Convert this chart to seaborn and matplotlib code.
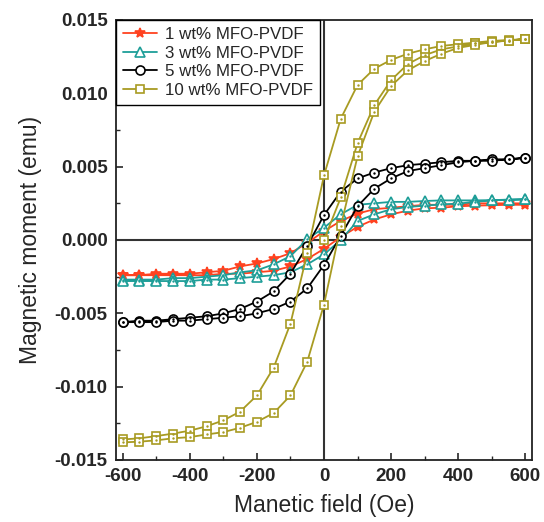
import numpy as np
import pandas as pd
import matplotlib
matplotlib.use("Agg")
import matplotlib.pyplot as plt
import seaborn as sns
from matplotlib.ticker import MultipleLocator, FormatStrFormatter

# ---------------- data ----------------
H_desc_pos = [600, 550, 500, 450, 400, 350, 300, 250, 200, 150, 100, 50, 0]
H_desc_neg = [-50, -100, -150, -200, -250, -300, -350, -400, -450, -500, -550, -600]
H_asc_neg = [-600, -550, -500, -450, -400, -350, -300, -250, -200, -150, -100, -50, 0]
H_asc_pos = [50, 100, 150, 200, 250, 300, 350, 400, 450, 500, 550, 600]
H_virgin = [0, 50, 100, 150, 200, 250, 300, 350, 400, 450, 500, 550, 600]

labels = ["1 wt% MFO-PVDF", "3 wt% MFO-PVDF", "5 wt% MFO-PVDF", "10 wt% MFO-PVDF"]

# 1 wt%
m1_desc_pos = [0.0025, 0.0025, 0.0025, 0.0025, 0.0024, 0.0024, 0.0024, 0.0023, 0.0022, 0.0021, 0.0018, 0.0013, 0.0006]
m1_desc_neg = [-0.0002, -0.0009, -0.0013, -0.0016, -0.0018, -0.0021, -0.0022, -0.0023, -0.0023, -0.0023, -0.0024, -0.0024]
m1_asc_neg = [-0.0024, -0.0024, -0.0024, -0.0024, -0.0024, -0.0024, -0.0023, -0.0023, -0.0022, -0.0021, -0.0018, -0.0013, -0.0006]
m1_asc_pos = [0.0002, 0.0009, 0.0014, 0.00175, 0.0020, 0.00216, 0.0022, 0.0023, 0.00234, 0.00237, 0.0024, 0.0024]

# 3 wt%
m3_desc_pos = [0.00277, 0.00275, 0.00272, 0.0027, 0.0027, 0.0027, 0.00266, 0.0026, 0.0026, 0.0025, 0.0024, 0.00175, 0.00084]
m3_desc_neg = [0.00005, -0.0011, -0.00166, -0.00207, -0.0022, -0.0024, -0.0025, -0.0026, -0.0026, -0.0027, -0.0027, -0.0027]
m3_asc_neg = [-0.0028, -0.0028, -0.0028, -0.0028, -0.0028, -0.0027, -0.0027, -0.0026, -0.0025, -0.0024, -0.0022, -0.00166, -0.00098]
m3_asc_pos = [0.0000, 0.0013, 0.00175, 0.0021, 0.00225, 0.00234, 0.00243, 0.00248, 0.0026, 0.0027, 0.00275, 0.00277]

# 5 wt%
m5_desc_pos = [0.0056, 0.0055, 0.0055, 0.0054, 0.0054, 0.0053, 0.0052, 0.0051, 0.0049, 0.0046, 0.0042, 0.0033, 0.0017]
m5_desc_neg = [-0.0004, -0.0023, -0.0035, -0.0042, -0.0047, -0.0050, -0.0052, -0.0053, -0.0054, -0.0055, -0.0055, -0.0056]
m5_asc_neg = [-0.0056, -0.0056, -0.0056, -0.0055, -0.0055, -0.0054, -0.0053, -0.0052, -0.0050, -0.0047, -0.0042, -0.0033, -0.0017]
m5_asc_pos = [0.0003, 0.0023, 0.0035, 0.0042, 0.0047, 0.0049, 0.0051, 0.0053, 0.0054, 0.0054, 0.0055, 0.0056]

# 10 wt%
m10_virgin = [0.0000, 0.0029, 0.0066, 0.0092, 0.0109, 0.0120, 0.0126, 0.0130, 0.0132, 0.0134, 0.0135, 0.0136, 0.0137]
m10_desc_pos = [0.01369, 0.01364, 0.01357, 0.01346, 0.01335, 0.01323, 0.0130, 0.0127, 0.01228, 0.01168, 0.01057, 0.00827, 0.0044]
m10_desc_neg = [-0.0009, -0.0057, -0.0087, -0.0106, -0.0117, -0.0123, -0.0127, -0.0130, -0.0132, -0.01337, -0.01352, -0.0136]
m10_asc_neg = [-0.0138, -0.01375, -0.01366, -0.01352, -0.01344, -0.01326, -0.0131, -0.0128, -0.0124, -0.0118, -0.0106, -0.0083, -0.0044]
m10_asc_pos = [0.00096, 0.0057, 0.00875, 0.0105, 0.01157, 0.0122, 0.0127, 0.0131, 0.0133, 0.0135, 0.0136, 0.0137]


def loop(desc_pos, desc_neg, asc_neg, asc_pos, virgin=None):
    H, M = [], []
    if virgin is not None:
        H += H_virgin
        M += virgin
    H += H_desc_pos + H_desc_neg + H_asc_neg + H_asc_pos
    M += desc_pos + desc_neg + asc_neg + asc_pos
    return pd.DataFrame({"H": H, "M": M, "order": np.arange(len(H))})


frames = [
    loop(m1_desc_pos, m1_desc_neg, m1_asc_neg, m1_asc_pos),
    loop(m3_desc_pos, m3_desc_neg, m3_asc_neg, m3_asc_pos),
    loop(m5_desc_pos, m5_desc_neg, m5_asc_neg, m5_asc_pos),
    loop(m10_desc_pos, m10_desc_neg, m10_asc_neg, m10_asc_pos, m10_virgin),
]

colors = ["#FF4220", "#1E9E98", "#000000", "#A89B22"]
markers = ["*", "^", "o", "s"]
msizes = [7.0, 6.5, 6.5, 5.5]
faces = [None, "white", "white", "white"]

# ---------------- plot ----------------
sns.set_style("ticks")
plt.rcParams["font.family"] = ["Liberation Sans", "DejaVu Sans"]
plt.rcParams["axes.unicode_minus"] = False

fig = plt.figure(figsize=(5.44, 5.22), dpi=100)
ax = fig.add_axes([116 / 544, 62 / 522, (532 - 116) / 544, (460 - 20) / 522])

ax.axhline(0, color="#333333", lw=1.5, zorder=1)
ax.axvline(0, color="#333333", lw=1.5, zorder=1)

for df, lab, c, mk, ms, fc in zip(frames, labels, colors, markers, msizes, faces):
    sns.lineplot(data=df, x="H", y="M", sort=False, estimator=None, ax=ax,
                 color=c, lw=1.3, marker=mk, markersize=ms,
                 markerfacecolor=(fc if fc else c), markeredgecolor=c,
                 markeredgewidth=1.2, label=lab, zorder=3)
    if fc:
        sns.scatterplot(data=df, x="H", y="M", ax=ax, color=c, s=3,
                        linewidth=0, legend=False, zorder=4)

ax.set_xlim(-620, 620)
ax.set_ylim(-0.015, 0.015)
ax.xaxis.set_major_locator(MultipleLocator(200))
ax.xaxis.set_minor_locator(MultipleLocator(100))
ax.yaxis.set_major_locator(MultipleLocator(0.005))
ax.yaxis.set_minor_locator(MultipleLocator(0.0025))
ax.yaxis.set_major_formatter(FormatStrFormatter("%.3f"))

ax.tick_params(axis="both", which="major", direction="in", length=5, width=1.2,
               labelsize=13.5, pad=6)
ax.tick_params(axis="both", which="minor", direction="in", length=3, width=1.0)
for t in ax.get_xticklabels() + ax.get_yticklabels():
    t.set_fontweight("bold")

for s in ax.spines.values():
    s.set_linewidth(1.3)
    s.set_color("#222222")

ax.set_xlabel("Manetic field (Oe)", fontsize=16.5, labelpad=6)
ax.set_ylabel("Magnetic moment (emu)", fontsize=16.5, labelpad=9)

leg = ax.legend(loc="upper left", borderaxespad=0, fontsize=12.2, frameon=True,
                fancybox=False, framealpha=1, edgecolor="black",
                handlelength=2.0, handletextpad=0.5, labelspacing=0.22,
                borderpad=0.4)
leg.get_frame().set_linewidth(1.0)

fig.savefig("out.png", dpi=100)
